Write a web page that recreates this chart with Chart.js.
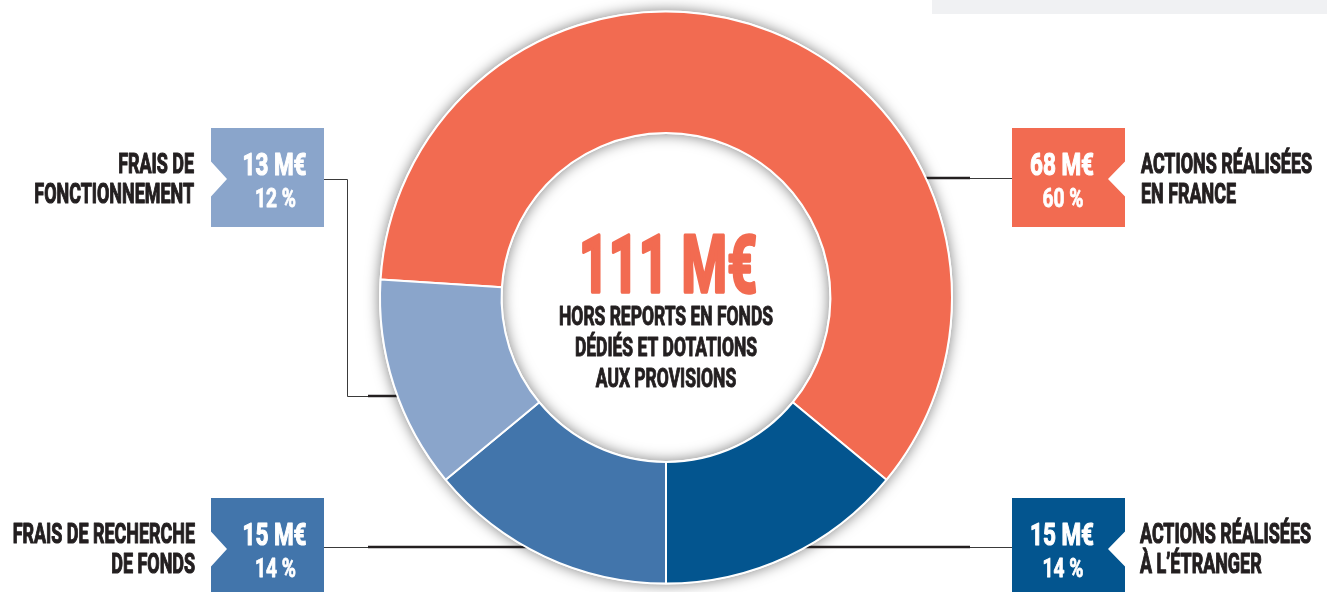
<!DOCTYPE html>
<html lang="fr">
<head>
<meta charset="utf-8">
<title>Emplois des ressources — 111 M€</title>
<script src="https://cdn.jsdelivr.net/npm/chart.js@4/dist/chart.umd.min.js"></script>
<style>
  html, body { margin: 0; padding: 0; background: #fff; overflow: hidden; }
  #wrap { position: relative; width: 1327px; height: 592px; }
  #topBand { position: absolute; left: 932px; top: 0; width: 395px; height: 14px; background: #f0f1f3; }
  canvas { position: absolute; left: 0; top: 0; }
</style>
</head>
<body>
<div id="wrap">
  <div id="topBand"></div>
  <canvas id="donut" width="1327" height="592"></canvas>
</div>
<script>
// ---------------------------------------------------------------------
// Répartition des emplois (hors reports en fonds dédiés et dotations).
// Order follows the ring clockwise, starting from the left edge.
// ---------------------------------------------------------------------
const categories = ["Actions réalisées en France", "Actions réalisées à l’étranger", "Frais de recherche de fonds", "Frais de fonctionnement"];
const amountsME = [68, 15, 15, 13];          // millions d'euros
const sharesPct = [60, 14, 14, 12];          // % of total
const labelLines = [
    ["ACTIONS RÉALISÉES", "EN FRANCE"],
    ["ACTIONS RÉALISÉES", "À L’ÉTRANGER"],
    ["FRAIS DE RECHERCHE", "DE FONDS"],
    ["FRAIS DE", "FONCTIONNEMENT"]
];
const totalLabel = "111 M€";
const totalNote = ["HORS REPORTS EN FONDS", "DÉDIÉS ET DOTATIONS", "AUX PROVISIONS"];

const sliceColors = ["#f26b51", "#03558f", "#4275ab", "#8aa5cb"];
const INK = "#231f20";
const FONT = "Roboto, 'Liberation Sans', sans-serif";

// Where each callout sits: box left edge, box top, notch side, text side, leader line y.
const callouts = [
    { box: 1012, top: 128, notch: "right", row: 178, textX: 1141, textAlign: "left", base: 173 },
    { box: 1012, top: 498, notch: "right", row: 547, textX: 1140, textAlign: "left", base: 543 },
    { box: 211, top: 498, notch: "left", row: 547, textX: 195, textAlign: "right", base: 543 },
    { box: 211, top: 128, notch: "left", row: 396, elbow: 179, textX: 194, textAlign: "right", base: 173 }
];
const BOX_W = 113, BOX_H = 99;

// Horizontal squeeze so a plain sans looks like the condensed face of the original.
function squeeze(ctx, font, sample, width) {
    ctx.font = font;
    return width / ctx.measureText(sample).width;
}
// weight: extra stroke (in px) to thicken the letters a little
function text(ctx, str, x, y, font, color, sx, align, weight) {
    ctx.save();
    ctx.font = font;
    ctx.fillStyle = color;
    ctx.strokeStyle = color;
    ctx.lineJoin = "round";
    ctx.textAlign = align;
    ctx.textBaseline = "alphabetic";
    ctx.translate(x, y);
    ctx.scale(sx, 1);
    ctx.fillText(str, 0, 0);
    if (weight) { ctx.lineWidth = weight; ctx.strokeText(str, 0, 0); }
    ctx.restore();
}

// Soft shadow under the whole ring, plus the leader lines (they slide under the ring).
const ringShadow = {
    id: "ringShadow",
    beforeDatasetsDraw(chart) {
        const arc = chart.getDatasetMeta(0).data[0];
        if (!arc) return;
        const { x, y, outerRadius, innerRadius } = arc.getProps(["x", "y", "outerRadius", "innerRadius"], true);
        const ctx = chart.ctx;
        ctx.save();
        ctx.shadowColor = "rgba(0,0,0,0.5)";
        ctx.shadowBlur = 14;
        ctx.fillStyle = "#fff";
        ctx.beginPath();
        ctx.arc(x, y, outerRadius + 1, 0, Math.PI * 2);
        ctx.arc(x, y, innerRadius - 1, 0, Math.PI * 2, true);
        ctx.fill("evenodd");
        ctx.restore();

        // leader lines
        ctx.save();
        callouts.forEach(function (c) {
            const dy = c.row - y;
            const half = Math.sqrt(Math.max(outerRadius * outerRadius - dy * dy, 0));
            const edge = c.notch === "right" ? x + half - 2 : x - half + 2;
            ctx.lineCap = "butt";
            if (c.notch === "right") {
                ctx.strokeStyle = INK; ctx.lineWidth = 2.5;
                ctx.beginPath(); ctx.moveTo(edge, c.row); ctx.lineTo(970, c.row); ctx.stroke();
                ctx.strokeStyle = "#3a3a3a"; ctx.lineWidth = 1;
                ctx.beginPath(); ctx.moveTo(970, c.row + 0.5); ctx.lineTo(c.box, c.row + 0.5); ctx.stroke();
            } else {
                ctx.strokeStyle = "#3a3a3a"; ctx.lineWidth = 1;
                ctx.beginPath();
                if (c.elbow) {
                    ctx.moveTo(c.box + BOX_W, c.elbow + 0.5);
                    ctx.lineTo(347.5, c.elbow + 0.5);
                    ctx.lineTo(347.5, c.row + 0.5);
                    ctx.lineTo(368, c.row + 0.5);
                } else {
                    ctx.moveTo(c.box + BOX_W, c.row + 0.5);
                    ctx.lineTo(368, c.row + 0.5);
                }
                ctx.stroke();
                ctx.strokeStyle = INK; ctx.lineWidth = 2.5;
                ctx.beginPath(); ctx.moveTo(368, c.row); ctx.lineTo(edge, c.row); ctx.stroke();
            }
        });
        ctx.restore();
    }
};

// Value boxes, category labels and the total in the hole.
const callouts2 = {
    id: "callouts",
    afterDraw(chart) {
        const ctx = chart.ctx;
        const arc = chart.getDatasetMeta(0).data[0];
        const cx = arc.x;

        const labFont = "bold 28px " + FONT;
        const amtFont = "bold 32px " + FONT;
        const pctFont = "bold 25px " + FONT;
        const sLab = squeeze(ctx, labFont, "ACTIONS RÉALISÉES", 171);
        const sAmt = squeeze(ctx, amtFont, "68 M€", 64);
        const sPct = squeeze(ctx, pctFont, "60 %", 41);

        callouts.forEach(function (c, i) {
            const x0 = c.box, x1 = c.box + BOX_W, y0 = c.top, y1 = c.top + BOX_H;
            const ny = c.top + 51;
            ctx.save();
            ctx.fillStyle = sliceColors[i];
            ctx.beginPath();
            if (c.notch === "right") {
                ctx.moveTo(x0, y0); ctx.lineTo(x1, y0); ctx.lineTo(x1, ny - 17.5);
                ctx.lineTo(x1 - 17, ny); ctx.lineTo(x1, ny + 17.5); ctx.lineTo(x1, y1); ctx.lineTo(x0, y1);
            } else {
                ctx.moveTo(x0, y0); ctx.lineTo(x1, y0); ctx.lineTo(x1, y1); ctx.lineTo(x0, y1);
                ctx.lineTo(x0, ny + 17.5); ctx.lineTo(x0 + 16, ny); ctx.lineTo(x0, ny - 17.5);
            }
            ctx.closePath();
            ctx.fill();
            ctx.restore();

            const mid = (x0 + x1) / 2 + (c.notch === "right" ? -6.5 : 7);
            text(ctx, amountsME[i] + " M€", mid, c.top + 47, amtFont, "#fff", sAmt, "center", 1.2);
            text(ctx, sharesPct[i] + " %", mid + 1, c.top + 79, pctFont, "#fff", sPct, "center", 0.8);

            labelLines[i].forEach(function (line, k) {
                text(ctx, line, c.textX, c.base + k * 29.5, labFont, INK, sLab, c.textAlign, 1.2);
            });
        });

        // centre of the ring
        const bigFont = "bold 80px " + FONT;
        const noteFont = "bold 25px " + FONT;
        const sBig = squeeze(ctx, bigFont, totalLabel, 178);
        const sNote = squeeze(ctx, noteFont, totalNote[0], 214);
        text(ctx, totalLabel, cx + 2, 292, bigFont, sliceColors[0], sBig, "center", 3.5);
        totalNote.forEach(function (line, k) {
            text(ctx, line, cx, 325 + k * 31, noteFont, INK, sNote, "center", 1);
        });
    }
};

new Chart(document.getElementById("donut"), {
    type: "doughnut",
    data: {
        labels: categories,
        datasets: [{
            data: sharesPct,
            backgroundColor: sliceColors,
            borderColor: "#ffffff",
            borderWidth: 2
        }]
    },
    options: {
        responsive: false,
        animation: false,
        rotation: -86.4,
        cutout: "57.5%",
        layout: { padding: { left: 379, right: 374, top: 10.5, bottom: 7.5 } },
        plugins: { legend: { display: false }, tooltip: { enabled: false } },
        events: []
    },
    plugins: [ringShadow, callouts2]
});
</script>
</body>
</html>
